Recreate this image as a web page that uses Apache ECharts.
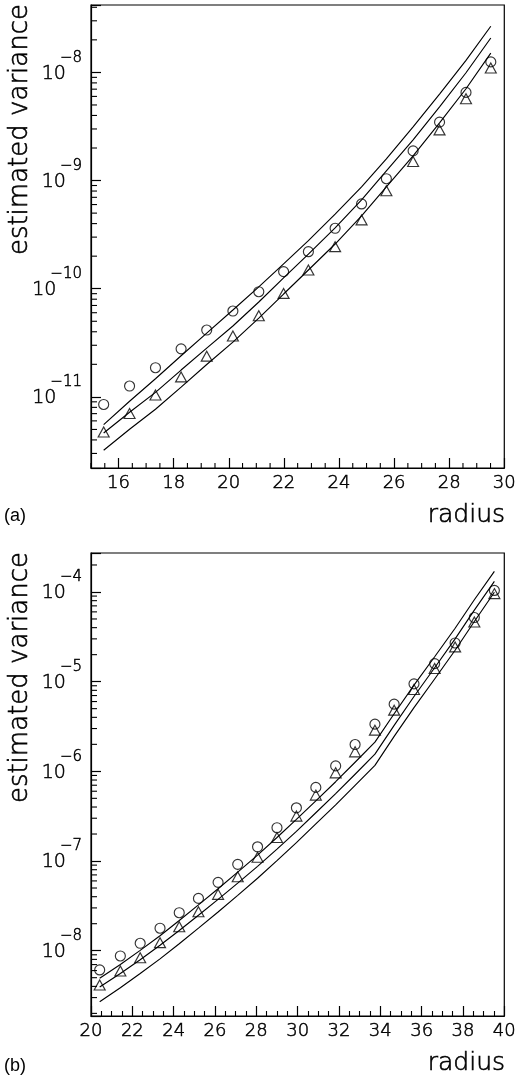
<!DOCTYPE html>
<html><head><meta charset="utf-8">
<script src="https://cdn.jsdelivr.net/npm/echarts@6/dist/echarts.min.js"></script>
<style>html,body{margin:0;padding:0;background:#fff}#c{width:519px;height:1079px}</style>
</head><body><div id="c"></div>
<script>
// ---------- panel (a) ----------
const X_A = [15.46, 16.4, 17.34, 18.27, 19.2, 20.15, 21.09, 21.99, 22.89, 23.86, 24.82, 25.72, 26.69, 27.65, 28.61, 29.51];
const CIRCLE_A = [8.51e-12, 1.26e-11, 1.86e-11, 2.78e-11, 4.15e-11, 6.22e-11, 9.38e-11, 1.44e-10, 2.20e-10, 3.62e-10, 6.08e-10, 1.04e-9, 1.88e-9, 3.47e-9, 6.53e-9, 1.25e-8];
const TRIANGLE_A = [4.74e-12, 7.02e-12, 1.04e-11, 1.53e-11, 2.38e-11, 3.65e-11, 5.62e-11, 9.05e-11, 1.49e-10, 2.45e-10, 4.33e-10, 8.04e-10, 1.50e-9, 2.94e-9, 5.70e-9, 1.10e-8];
const UPPER_A = [5.54e-12, 9.12e-12, 1.47e-11, 2.40e-11, 3.89e-11, 6.35e-11, 1.04e-10, 1.70e-10, 2.78e-10, 4.89e-10, 8.74e-10, 1.59e-9, 3.14e-9, 6.31e-9, 1.29e-8, 2.67e-8];
const MIDDLE_A = [4.64e-12, 7.21e-12, 1.10e-11, 1.77e-11, 2.82e-11, 4.52e-11, 7.54e-11, 1.26e-10, 2.09e-10, 3.65e-10, 6.62e-10, 1.23e-9, 2.38e-9, 4.81e-9, 9.93e-9, 2.08e-8];
const LOWER_A = [3.21e-12, 5.02e-12, 7.69e-12, 1.23e-11, 1.99e-11, 3.21e-11, 5.35e-11, 8.93e-11, 1.49e-10, 2.59e-10, 4.71e-10, 8.74e-10, 1.69e-9, 3.42e-9, 7.06e-9, 1.51e-8];
const XTICKS_A = [16, 18, 20, 22, 24, 26, 28, 30];
const XRANGE_A = [15, 30];
const YRANGE_A = [2.2e-12, 4.2e-8];

// ---------- panel (b) ----------
const X_B = [20.42, 21.42, 22.38, 23.34, 24.27, 25.2, 26.15, 27.1, 28.06, 29.0, 29.94, 30.88, 31.84, 32.78, 33.74, 34.67, 35.63, 36.63, 37.62, 38.55, 39.52];
const CIRCLE_B = [6.10e-9, 8.73e-9, 1.21e-8, 1.78e-8, 2.65e-8, 3.83e-8, 5.78e-8, 9.18e-8, 1.44e-7, 2.35e-7, 3.92e-7, 6.62e-7, 1.15e-6, 1.99e-6, 3.36e-6, 5.61e-6, 9.45e-6, 1.59e-5, 2.70e-5, 5.19e-5, 1.04e-4];
const TRIANGLE_B = [4.15e-9, 5.94e-9, 8.36e-9, 1.23e-8, 1.85e-8, 2.72e-8, 4.25e-8, 6.68e-8, 1.10e-7, 1.83e-7, 3.17e-7, 5.43e-7, 9.62e-7, 1.65e-6, 2.88e-6, 4.81e-6, 8.18e-6, 1.40e-5, 2.44e-5, 4.63e-5, 9.59e-5];
const UPPER_B = [4.93e-9, 7.00e-9, 1.008e-8, 1.47e-8, 2.17e-8, 3.24e-8, 4.91e-8, 7.51e-8, 1.165e-7, 1.83e-7, 2.91e-7, 4.69e-7, 7.66e-7, 1.263e-6, 2.115e-6, 4.39e-6, 9.13e-6, 1.897e-5, 3.94e-5, 8.19e-5, 1.70e-4];
const MIDDLE_B = [3.94e-9, 5.56e-9, 7.94e-9, 1.149e-8, 1.68e-8, 2.485e-8, 3.74e-8, 5.67e-8, 8.72e-8, 1.358e-7, 2.14e-7, 3.45e-7, 5.63e-7, 9.28e-7, 1.555e-6, 3.25e-6, 6.83e-6, 1.43e-5, 2.995e-5, 6.28e-5, 1.315e-4];
const LOWER_B = [2.70e-9, 3.86e-9, 5.56e-9, 8.10e-9, 1.197e-8, 1.786e-8, 2.705e-8, 4.14e-8, 6.42e-8, 1.009e-7, 1.605e-7, 2.59e-7, 4.22e-7, 6.96e-7, 1.166e-6, 2.45e-6, 5.13e-6, 1.07e-5, 2.24e-5, 4.69e-5, 9.92e-5];
const XRANGE_B = [20, 40];
const YRANGE_B = [1.87e-9, 2.72e-4];

const AXIS_TITLE_Y = 'estimated variance';
const AXIS_TITLE_X = 'radius';
const PANEL_LABELS = ['(a)', '(b)'];

// ---------- helpers ----------
const FONT = 'DejaVu Sans';
const W = 200;
const INK = '#000';
const TB = 0.5; // thin outline to darken the light face
function zip(xs, ys) { return xs.map((x, i) => [x, ys[i]]); }
function logMinor(range) {
  const out = [];
  for (let e = Math.floor(Math.log10(range[0])); e <= Math.ceil(Math.log10(range[1])); e++) {
    for (let k = 2; k <= 9; k++) {
      const v = k * Math.pow(10, e);
      if (v > range[0] && v < range[1]) out.push(v);
    }
  }
  return out;
}
function linMinor(range, step, majors) {
  const out = [];
  for (let v = range[0]; v <= range[1] + 1e-9; v += step) {
    if (!majors.some(m => Math.abs(m - v) < 1e-9)) out.push(+v.toFixed(3));
  }
  return out;
}
function powLabel(v) {
  const l = Math.log10(v);
  const e = Math.round(l);
  if (Math.abs(l - e) > 1e-6) return '';
  return '{b|10}{s|' + (e < 0 ? '\u2212' + (-e) : e) + '}';
}
const richY = {
  b: { fontFamily: FONT, fontWeight: W, fontSize: 19, lineHeight: 20, color: INK, textBorderColor: INK, textBorderWidth: TB, verticalAlign: 'bottom', padding: [0, -6, 14, 0] },
  s: { fontFamily: FONT, fontWeight: W, fontSize: 15, lineHeight: 16, color: INK, textBorderColor: INK, textBorderWidth: TB, verticalAlign: 'bottom', padding: [0, 0, 32, 0] }
};
function yAxisCfg(gi, range) {
  return {
    gridIndex: gi, type: 'log', logBase: 10, min: range[0], max: range[1],
    axisLine: { show: true, lineStyle: { color: INK, width: 1.2 } },
    axisTick: { show: true, inside: true, length: 10, lineStyle: { color: INK, width: 1.2 } },
    minorTick: { show: false },
    splitLine: { show: false },
    axisLabel: { formatter: powLabel, rich: richY, margin: 9, color: INK, padding: [30, 0, 0, 0] }
  };
}
function minorYSeries(gi, xr, yr) {
  return {
    type: 'custom', xAxisIndex: gi, yAxisIndex: gi, silent: true, clip: false,
    data: logMinor(yr).map(v => [xr[0], v]),
    renderItem: (p, api) => {
      const c = api.coord([api.value(0), api.value(1)]);
      return { type: 'line', shape: { x1: c[0], y1: c[1], x2: c[0] + 6, y2: c[1] }, style: { stroke: INK, lineWidth: 1.1 } };
    }
  };
}
function minorXSeries(gi, yr, vals) {
  return {
    type: 'custom', xAxisIndex: gi, yAxisIndex: gi, silent: true, clip: false,
    data: vals.map(v => [v, yr[0]]),
    renderItem: (p, api) => {
      const c = api.coord([api.value(0), api.value(1)]);
      return { type: 'line', shape: { x1: c[0], y1: c[1], x2: c[0], y2: c[1] - 5 }, style: { stroke: INK, lineWidth: 1.1 } };
    }
  };
}
function lineS(gi, xs, ys) {
  return { type: 'line', xAxisIndex: gi, yAxisIndex: gi, data: zip(xs, ys), showSymbol: false, symbol: 'none', silent: true,
    lineStyle: { color: INK, width: 1.15 } };
}
function markS(gi, xs, ys, sym, size) {
  return { type: 'scatter', xAxisIndex: gi, yAxisIndex: gi, data: zip(xs, ys), symbol: sym, symbolSize: size, silent: true,
    itemStyle: { color: 'rgba(0,0,0,0)', borderColor: INK, borderWidth: 1.15 } };
}
const axLabel = { fontFamily: FONT, fontWeight: W, fontSize: 18, color: INK, textBorderColor: INK, textBorderWidth: TB, margin: 6 };
function titleStyle(text, size, align) {
  return { text: text, fontFamily: FONT, fontWeight: W, fontSize: size, fill: INK, stroke: INK, lineWidth: 0.6, align: align, verticalAlign: 'middle' };
}

const chart = echarts.init(document.getElementById('c'), null, { renderer: 'canvas' });
chart.setOption({
  animation: false,
  backgroundColor: '#fff',
  grid: [
    { left: 91, top: 5, width: 416, height: 463, show: true, borderColor: INK, borderWidth: 1.2, backgroundColor: 'transparent' },
    { left: 91, top: 553, width: 416, height: 463, show: true, borderColor: INK, borderWidth: 1.2, backgroundColor: 'transparent' }
  ],
  xAxis: [
    { gridIndex: 0, type: 'value', min: XRANGE_A[0], max: XRANGE_A[1],
      axisLine: { show: true, lineStyle: { color: INK, width: 1.2 } },
      axisTick: { show: true, inside: true, length: 10, customValues: XTICKS_A, lineStyle: { color: INK, width: 1.2 } },
      axisLabel: Object.assign({ customValues: XTICKS_A }, axLabel),
      splitLine: { show: false } },
    { gridIndex: 1, type: 'value', min: XRANGE_B[0], max: XRANGE_B[1], interval: 2,
      axisLine: { show: true, lineStyle: { color: INK, width: 1.2 } },
      axisTick: { show: true, inside: true, length: 10, lineStyle: { color: INK, width: 1.2 } },
      minorTick: { show: true, splitNumber: 4, length: 5, lineStyle: { color: INK, width: 1.1 } },
      axisLabel: axLabel,
      splitLine: { show: false }, minorSplitLine: { show: false } }
  ],
  yAxis: [yAxisCfg(0, YRANGE_A), yAxisCfg(1, YRANGE_B)],
  series: [
    lineS(0, X_A, UPPER_A), lineS(0, X_A, MIDDLE_A), lineS(0, X_A, LOWER_A),
    markS(0, X_A, CIRCLE_A, 'circle', 10), markS(0, X_A, TRIANGLE_A, 'triangle', [11, 10]),
    minorYSeries(0, XRANGE_A, YRANGE_A),
    minorXSeries(0, YRANGE_A, linMinor(XRANGE_A, 0.5, XTICKS_A)),
    lineS(1, X_B, UPPER_B), lineS(1, X_B, MIDDLE_B), lineS(1, X_B, LOWER_B),
    markS(1, X_B, CIRCLE_B, 'circle', 10), markS(1, X_B, TRIANGLE_B, 'triangle', [11, 10]),
    minorYSeries(1, XRANGE_B, YRANGE_B)
  ],
  graphic: [
    { type: 'text', x: 20, y: 4, rotation: Math.PI / 2, style: titleStyle(AXIS_TITLE_Y, 26, 'right') },
    { type: 'text', x: 20, y: 552, rotation: Math.PI / 2, style: titleStyle(AXIS_TITLE_Y, 26, 'right') },
    { type: 'text', x: 505, y: 515, style: titleStyle(AXIS_TITLE_X, 25, 'right') },
    { type: 'text', x: 505, y: 1063, style: titleStyle(AXIS_TITLE_X, 25, 'right') },
    { type: 'text', x: 4, y: 516, style: { text: PANEL_LABELS[0], fontFamily: 'Liberation Sans', fontSize: 18, fill: INK, align: 'left', verticalAlign: 'middle' } },
    { type: 'text', x: 4, y: 1066, style: { text: PANEL_LABELS[1], fontFamily: 'Liberation Sans', fontSize: 18, fill: INK, align: 'left', verticalAlign: 'middle' } }
  ]
});
</script></body></html>
